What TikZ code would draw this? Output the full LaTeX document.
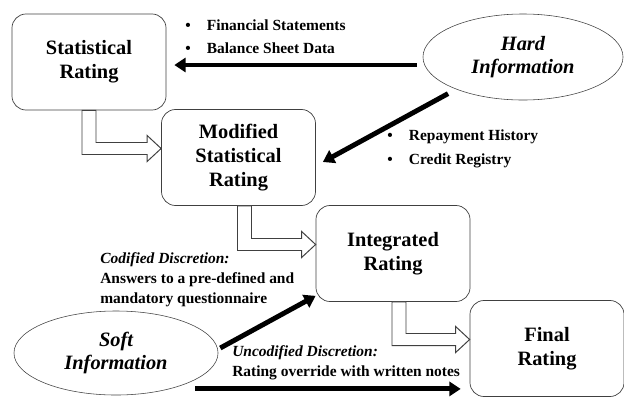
\documentclass[tikz,border=0pt]{standalone}
\usepackage{fontspec}
\setmainfont{Liberation Serif}
\usetikzlibrary{shapes.geometric,arrows.meta,calc}

% hollow elbow arrow from the bottom of one box to the left side of the next
\newcommand{\hollowconn}[3]{%
  \path ($(#1.south)+(#3,0)$) coordinate (hs) ($(#2.west)+(0,-9)$) coordinate (ht);
  \draw[hollow] ($(hs)+(-7,0)$) |- ($(ht)+(-14,6)$) -- ++(0,7) -- (ht)
    -- ++(-14,-13) -- ++(0,7) -| ($(hs)+(7,0)$) -- cycle;
}

\begin{document}
\begin{tikzpicture}[x=0.025cm,y=-0.025cm,
    box/.style={draw=black!75, line width=0.5pt, rounded corners=10pt, minimum width=3.85cm, minimum height=2.4cm, align=center, font=\fontsize{14.5}{17.3}\selectfont\bfseries},
    info/.style={draw=black!75, ellipse, inner sep=0pt, align=center, font=\fontsize{14.5}{16.5}\selectfont\bfseries\itshape},
    bigarrow/.style={line width=3.5pt, -{Triangle[length=8pt,width=10pt]}},
    hollow/.style={draw=black!75, line width=0.7pt, fill=white},
    note/.style={inner sep=0pt, anchor=west, align=left, font=\fontsize{11}{14.2}\selectfont\bfseries}]
        \useasboundingbox (0,0) rectangle (624,396);

        % Rating boxes
        \node[box] (sr) at (89,62) {Statistical\\Rating};
        \node[box] (msr) at (238.5,157.5) {Modified\\Statistical\\Rating};
        \node[box] (ir) at (393,253.5) {Integrated\\Rating};
        \node[box] (fr) at (547,348.5) {Final\\Rating};

        % Information sources
        \node[info, minimum width=5cm, minimum height=2.15cm] (hard) at (523,57) {Hard\\Information};
        \node[info, minimum width=5.1cm, minimum height=2.1cm] (soft) at (116,353) {Soft\\Information};

        % Labels
        \node[note] (fs) at (185,25) {\textbullet\hspace{11.5pt}Financial Statements};
        \node[note] (bs) at (185,48) {\textbullet\hspace{11.5pt}Balance Sheet Data};
        \node[note] (rh) at (387,137) {\textbullet\hspace{11.5pt}Repayment History};
        \node[note] (cr) at (387,161) {\textbullet\hspace{11.5pt}Credit Registry};
        \node[note] (cd) at (100,280) {\textit{Codified Discretion:}\\Answers to a pre-defined and\\mandatory questionnaire};
        \node[note] (ud) at (232,363) {\textit{Uncodified Discretion:}\\Rating override with written notes};

        % Flow between ratings
        \hollowconn{sr}{msr}{0}
        \hollowconn{msr}{ir}{6}
        \hollowconn{ir}{fr}{6}

        % Information arrows
        \draw[bigarrow] ([shift={(-6,8)}]hard.west) -- ([shift={(8,3)}]sr.east);
        \draw[bigarrow] ([shift={(-4,6)}]hard.south west) -- ([shift={(7,4.5)}]msr.east);
        \draw[bigarrow] ([shift={(2,-5)}]soft.east) -- ([shift={(0,-6)}]ir.south west);
        \draw[bigarrow] ($(soft.south east)+(7,6)$) -- ($(soft.south east -| fr.west)+(-9,6)$);
    \end{tikzpicture}
\end{document}
